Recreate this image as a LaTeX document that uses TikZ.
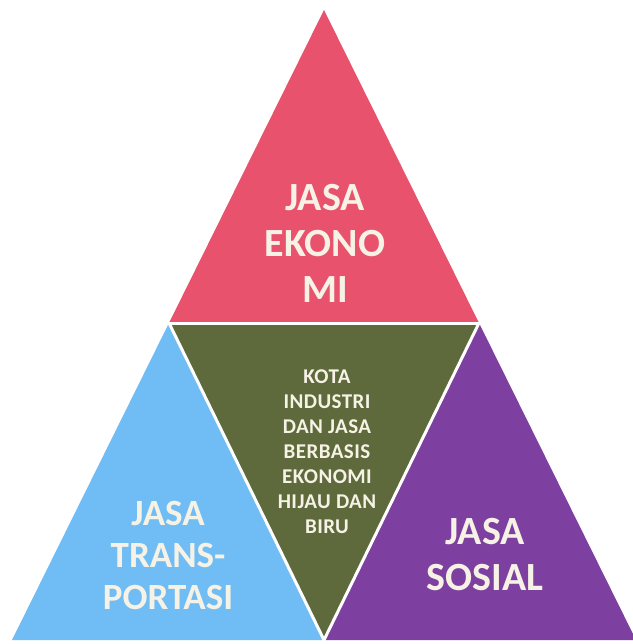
\documentclass[tikz,border=0pt]{standalone}
\usepackage{fontspec}
\setmainfont{Carlito}
\usepackage{xcolor}
\usepackage{tikz}
\definecolor{pinkjasa}{RGB}{232,82,108}
\definecolor{greenkota}{RGB}{94,106,60}
\definecolor{bluejasa}{RGB}{112,188,244}
\definecolor{purplejasa}{RGB}{126,64,160}
\definecolor{labeltext}{RGB}{246,242,230}

\begin{document}
\begin{tikzpicture}[x=1pt,y=-1pt,
  part/.style={draw=white,line width=3pt,line join=round},
  biglabel/.style={text=labeltext,align=center,font=\bfseries\fontsize{40}{46}\selectfont},
  midlabel/.style={text=labeltext,align=center,font=\bfseries\fontsize{37}{42}\selectfont},
  smalllabel/.style={text=labeltext,align=center,font=\bfseries\fontsize{21}{25}\selectfont\addfontfeatures{LetterSpace=2}}]
\useasboundingbox[fill=white] (0,0) rectangle (632,644);

\coordinate (apex) at (324,10);
\coordinate (midL) at (169,323);
\coordinate (midR) at (479,323);
\coordinate (botL) at (12,640);
\coordinate (botM) at (324,640);
\coordinate (botR) at (636,640);

\fill[pinkjasa] (apex)--(midL)--(midR)--cycle;
\fill[greenkota] (midL)--(midR)--(botM)--cycle;
\fill[bluejasa] (midL)--(botL)--(botM)--cycle;
\fill[purplejasa] (midR)--(botM)--(botR)--cycle;
\draw[part] (midL)--(midR);
\draw[part] (midL)--(botM)--(midR);

\node[biglabel] (ekonomi) at (325,243) {JASA\\EKONO\\MI};
\node[smalllabel] (kota) at (327,452) {KOTA\\INDUSTRI\\DAN JASA\\BERBASIS\\EKONOMI\\HIJAU DAN\\BIRU};
\node[midlabel] (transportasi) at (168,555) {JASA\\TRANS-\\PORTASI};
\node[biglabel] (sosial) at (485,555) {JASA\\SOSIAL};

\end{tikzpicture}
\end{document}
